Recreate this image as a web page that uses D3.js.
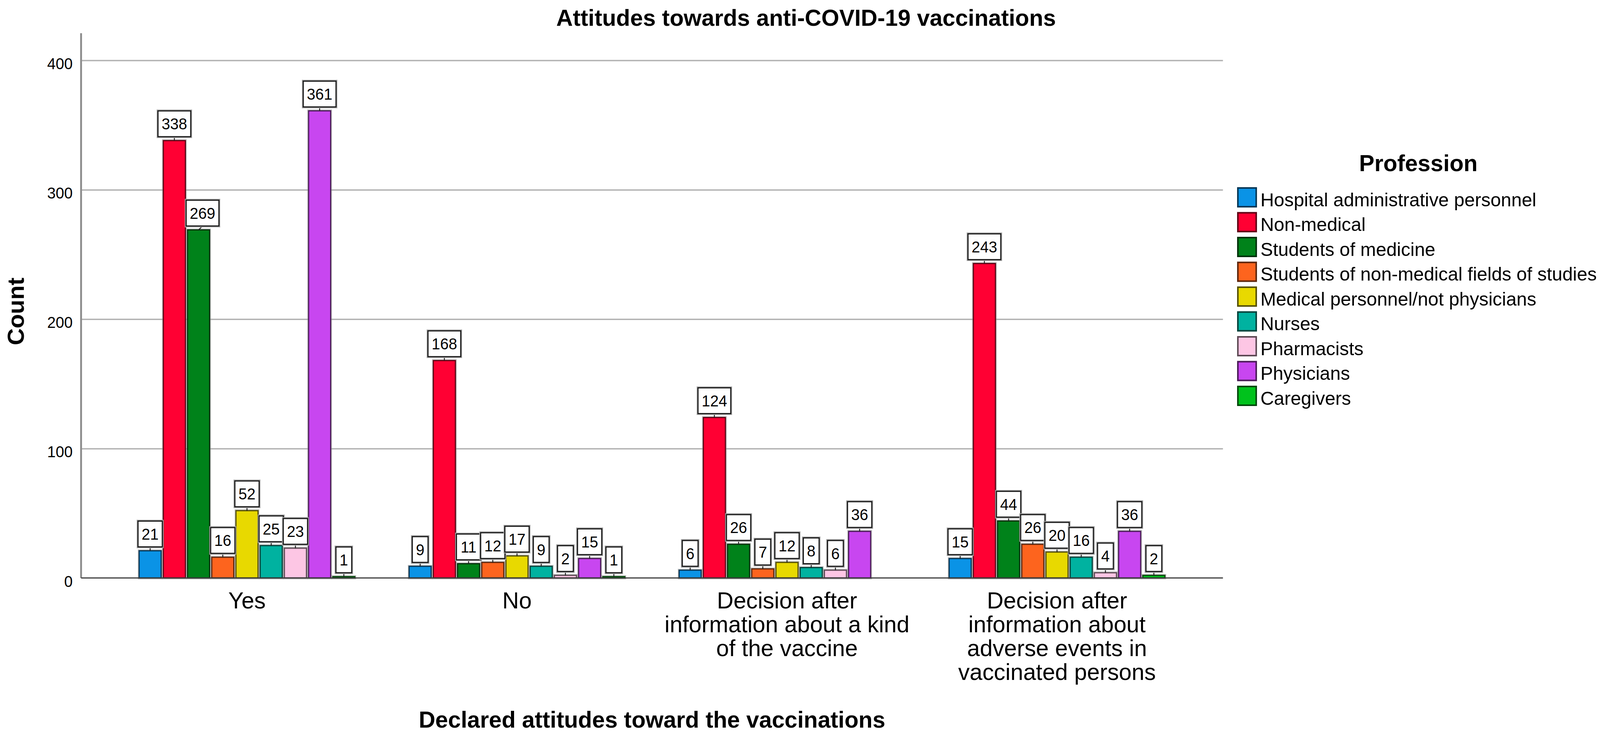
<!DOCTYPE html>
<html>
<head>
<meta charset="utf-8">
<script src="https://cdn.jsdelivr.net/npm/d3@7"></script>
<style>
  html, body { margin: 0; padding: 0; background: #fff; overflow: hidden; }
  .main { width: 100vw; height: 100vh; }
  svg { display: block; width: 100%; height: 100%; }
</style>
</head>
<body>
<div class="main"></div>
<script>
// chart values
const categories = [
  "Yes",
  "No",
  "Decision after information about a kind of the vaccine",
  "Decision after information about adverse events in vaccinated persons"
]
const professions = [
  "Hospital administrative personnel",
  "Non-medical",
  "Students of medicine",
  "Students of non-medical fields of studies",
  "Medical personnel/not physicians",
  "Nurses",
  "Pharmacists",
  "Physicians",
  "Caregivers"
]
const professionColors = ["#0a93e6", "#ff0033", "#00821a", "#fd641e", "#e8d900", "#00b2a0", "#fdc6e4", "#c846f0", "#00c21c"]

const countsYes = [21, 338, 269, 16, 52, 25, 23, 361, 1]
const countsNo = [9, 168, 11, 12, 17, 9, 2, 15, 1]
const countsKindOfVaccine = [6, 124, 26, 7, 12, 8, 6, 36, null]
const countsAdverseEvents = [15, 243, 44, 26, 20, 16, 4, 36, 2]
const yTicks = [0, 100, 200, 300, 400]

const font = "'Liberation Sans', Arial, sans-serif"
const W = 4184, H = 1886
const plot = { left: 212, right: 3198, top: 85, bottom: 1479 }

const groups = [countsYes, countsNo, countsKindOfVaccine, countsAdverseEvents]
    .map((values, i) => ({ category: categories[i], values }))

// drawn in a fixed 4184x1886 user space, stretched to whatever the viewport is
const svg = d3.select(".main")
    .append("svg")
    .attr("viewBox", `0 0 ${W} ${H}`)
    .attr("preserveAspectRatio", "none")
    .style("font-family", font)

svg.append("rect").attr("width", W).attr("height", H).attr("fill", "#fff")

const x0 = d3.scaleBand()
    .domain(categories)
    .range([plot.left, plot.right])
    .paddingInner(0.193)
    .paddingOuter(0.211)

const x1 = d3.scaleBand()
    .domain(professions)
    .range([0, x0.bandwidth()])
    .paddingInner(0.09)
    .paddingOuter(0.045)

const y = d3.scaleLinear()
    .domain([0, 421])
    .range([plot.bottom, plot.top])

const color = d3.scaleOrdinal(professions, professionColors)

// gridlines + y tick labels
const yAxis = svg.append("g")
    .attr("transform", `translate(${plot.left},0)`)
    .call(d3.axisLeft(y)
        .tickValues(yTicks)
        .tickSize(-(plot.right - plot.left))
        .tickPadding(22)
        .tickFormat(d3.format("d")))
yAxis.select(".domain").remove()
yAxis.selectAll(".tick line")
    .attr("stroke", "#b2b2b2")
    .attr("stroke-width", 3.5)
    .attr("opacity", d => d === 0 ? 0 : 1)
yAxis.selectAll(".tick text")
    .attr("font-size", 40)
    .attr("font-family", font)
    .attr("fill", "#000")
    .attr("dy", "0.55em")

// y axis line
svg.append("line")
    .attr("x1", plot.left).attr("x2", plot.left)
    .attr("y1", plot.top).attr("y2", plot.bottom)
    .attr("stroke", "#8f8f8f")
    .attr("stroke-width", 5)

// bars
const gGroups = svg.selectAll(".grp")
    .data(groups)
    .join("g")
    .attr("class", "grp")
    .attr("transform", d => `translate(${x0(d.category)},0)`)

const barData = d => d.values
    .map((v, i) => ({ prof: professions[i], value: v }))
    .filter(b => b.value != null)

gGroups.selectAll(".halo")
    .data(barData)
    .join("rect")
    .attr("class", "halo")
    .attr("x", d => x1(d.prof))
    .attr("y", d => y(d.value))
    .attr("width", x1.bandwidth())
    .attr("height", d => y(0) - y(d.value))
    .attr("fill", "none")
    .attr("stroke", "#8a8a8a")
    .attr("stroke-opacity", 0.55)
    .attr("stroke-width", 7)

gGroups.selectAll(".bar")
    .data(barData)
    .join("rect")
    .attr("class", "bar")
    .attr("x", d => x1(d.prof))
    .attr("y", d => y(d.value))
    .attr("width", x1.bandwidth())
    .attr("height", d => y(0) - y(d.value))
    .attr("fill", d => color(d.prof))
    .attr("stroke", d => d3.color(color(d.prof)).darker(2.8))
    .attr("stroke-width", 3)

// x baseline
svg.append("line")
    .attr("x1", plot.left).attr("x2", plot.right)
    .attr("y1", y(0)).attr("y2", y(0))
    .attr("stroke", "#3c3c3c")
    .attr("stroke-width", 3)

// value labels, pushed aside / up a bit so they don't collide (like spss does)
const labelFont = 40, boxH = 66, gap = 10
const labels = []
groups.forEach(g => {
    const gx = x0(g.category)
    const bw = x1.bandwidth()
    const placed = []
    g.values.forEach((v, i) => {
        if (v == null) return
        const left = gx + x1(professions[i])
        const cx = left + bw / 2
        const w = String(v).length * labelFont * 0.556 + 19
        let bx = cx - w / 2
        let bottom = y(v) - gap
        const lv = g.values[i - 1], rv = g.values[i + 1]
        if (lv != null && y(lv) < bottom) {
            const edge = gx + x1(professions[i - 1]) + bw + 2
            if (bx < edge) bx = edge
        }
        if (rv != null && y(rv) < bottom) {
            const edge = gx + x1(professions[i + 1]) - 2
            if (bx + w > edge) bx = edge - w
        }
        let moved = true
        while (moved) {
            moved = false
            for (const p of placed) {
                if (bx < p.x + p.w - 3 && bx + w > p.x + 3 && bottom - boxH < p.y + boxH && bottom > p.y) {
                    bottom = p.y - 4
                    moved = true
                }
            }
        }
        const box = { x: bx, y: bottom - boxH, w, value: v, cx, barTop: y(v) }
        placed.push(box)
        labels.push(box)
    })
})

const gLabels = svg.append("g")
gLabels.selectAll("line")
    .data(labels)
    .join("line")
    .attr("x1", d => d.x + d.w / 2)
    .attr("y1", d => d.y + boxH)
    .attr("x2", d => d.cx)
    .attr("y2", d => d.barTop)
    .attr("stroke", "#222")
    .attr("stroke-width", 2.5)

const lab = gLabels.selectAll(".lab")
    .data(labels)
    .join("g")
    .attr("class", "lab")
    .attr("transform", d => `translate(${d.x},${d.y})`)
lab.append("rect")
    .attr("width", d => d.w).attr("height", boxH)
    .attr("fill", "#fff")
    .attr("stroke", "#a8a8a8")
    .attr("stroke-width", 7)
lab.append("rect")
    .attr("width", d => d.w).attr("height", boxH)
    .attr("fill", "#fff")
    .attr("stroke", "#1a1a1a")
    .attr("stroke-width", 3)
lab.append("text")
    .attr("x", d => d.w / 2)
    .attr("y", boxH / 2)
    .attr("dy", "0.36em")
    .attr("text-anchor", "middle")
    .attr("font-size", labelFont)
    .text(d => d.value)

// category labels (wrapped)
const catText = svg.selectAll(".cat")
    .data(categories)
    .join("text")
    .attr("class", "cat")
    .attr("x", d => x0(d) + x0.bandwidth() / 2)
    .attr("y", 1557)
    .attr("text-anchor", "middle")
    .attr("font-size", 60)
    .attr("fill", "#000")

catText.each(function (d) {
    const t = d3.select(this)
    const words = d.split(" ")
    const maxW = 660
    let line = []
    let tspan = t.append("tspan").attr("x", t.attr("x")).attr("dy", 0)
    for (const word of words) {
        line.push(word)
        tspan.text(line.join(" "))
        if (tspan.node().getComputedTextLength() > maxW && line.length > 1) {
            line.pop()
            tspan.text(line.join(" "))
            line = [word]
            tspan = t.append("tspan").attr("x", t.attr("x")).attr("dy", 61).text(word)
        }
    }
})

// titles
svg.append("text")
    .attr("x", 2108).attr("y", 66)
    .attr("text-anchor", "middle")
    .attr("font-size", 60)
    .attr("font-weight", "bold")
    .text("Attitudes towards anti-COVID-19 vaccinations")

svg.append("text")
    .attr("x", (plot.left + plot.right) / 2).attr("y", 1862)
    .attr("text-anchor", "middle")
    .attr("font-size", 60)
    .attr("font-weight", "bold")
    .text("Declared attitudes toward the vaccinations")

svg.append("text")
    .attr("transform", `translate(62,${(plot.top + plot.bottom) / 2 + 15}) rotate(-90)`)
    .attr("text-anchor", "middle")
    .attr("font-size", 60)
    .attr("font-weight", "bold")
    .text("Count")

// legend
const legendX = 3237
const legend = svg.append("g")
legend.append("text")
    .attr("x", legendX + 472).attr("y", 438)
    .attr("text-anchor", "middle")
    .attr("font-size", 60)
    .attr("font-weight", "bold")
    .text("Profession")

const item = legend.selectAll(".item")
    .data(professions)
    .join("g")
    .attr("class", "item")
    .attr("transform", (d, i) => `translate(${legendX},${481 + i * 63.5})`)
item.append("rect")
    .attr("width", 48).attr("height", 48)
    .attr("fill", d => color(d))
    .attr("stroke", d => d3.color(color(d)).darker(2.8))
    .attr("stroke-width", 4)
const itemText = item.append("text")
    .attr("x", 59).attr("y", 47)
    .attr("font-size", 49)
    .text(d => d)

// keep the longest legend entry inside the picture
const longest = d3.max(itemText.nodes(), n => n.getComputedTextLength())
const overflow = legendX + 59 + longest - (W - 8)
if (overflow > 0) legend.attr("transform", `translate(${-overflow},0)`)
</script>
</body>
</html>
